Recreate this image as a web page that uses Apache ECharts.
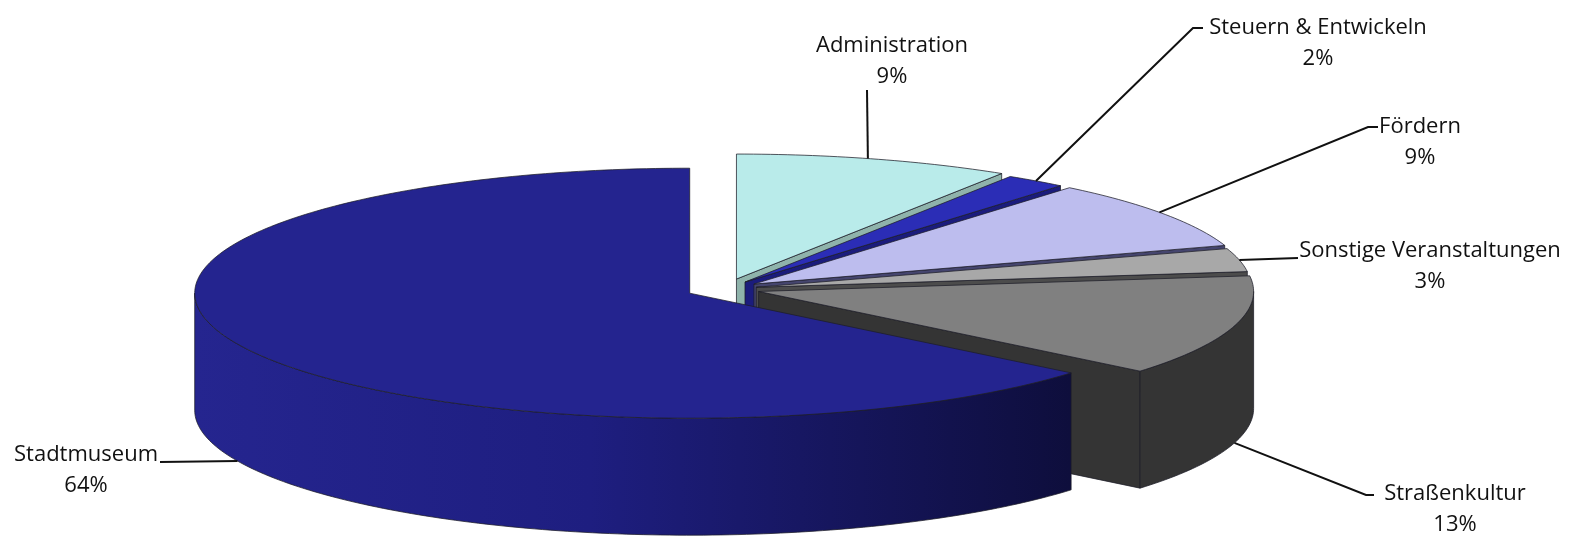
<!DOCTYPE html>
<html>
<head>
<meta charset="utf-8">
<script src="https://cdn.jsdelivr.net/npm/echarts@6/dist/echarts.min.js"></script>
<style>
  html, body { margin: 0; padding: 0; background: #ffffff; }
  #chart { width: 1584px; height: 538px; }
</style>
</head>
<body>
<div id="chart"></div>
<script>
// Budget shares by area (percent)
const categories = ['Administration', 'Steuern & Entwickeln', 'Fördern', 'Sonstige Veranstaltungen', 'Straßenkultur', 'Stadtmuseum'];
const shares = [9, 2, 9, 3, 13, 64];

// Slice styling
const topColors  = ['#b9ebea', '#2b2db6', '#bdbdee', '#a8a8a8', '#808080', '#24248f'];
const sideColors = ['#8fb3ab', '#1b1c7c', '#45456e', '#4c4c4c', '#343434', '#1a1a6a'];
const explodeDist = [41, 34, 35, 32, 35, 39];

// Projected ellipse of the pie (pixels)
const pie = { cx: 725, cy: 289, rx: 495, ry: 125, depth: 117 };

// Leader lines and label blocks: anchor angle on the rim, bend points, text centre
const labelLayout = [
  { anchor: 15.4, onWall: false, bends: [[867, 90]], text: [892, 61] },
  { anchor: 36,   onWall: false, bends: [[1193, 28], [1203, 28]], text: [1318, 43] },
  { anchor: 55,   onWall: false, bends: [[1368, 127], [1378, 127]], text: [1420, 142] },
  { anchor: 77.4, onWall: false, bends: [[1298, 258]], text: [1430, 266] },
  { anchor: 106,  onWall: true,  bends: [[1366, 495], [1374, 495]], text: [1455, 509] },
  { anchor: 246,  onWall: true,  bends: [[160, 462]], text: [86, 470] }
];

const total = shares.reduce((a, b) => a + b, 0);
const startAngles = [];
shares.reduce((acc, v, i) => { startAngles[i] = acc; return acc + v; }, 0);

const rad = d => d * Math.PI / 180;

function sliceGeometry(i) {
  const s = startAngles[i] / total * 360;
  const e = (startAngles[i] + shares[i]) / total * 360;
  const m = (s + e) / 2;
  const k = pie.ry / pie.rx;
  const cx = pie.cx + explodeDist[i] * Math.sin(rad(m));
  const cy = pie.cy - explodeDist[i] * Math.cos(rad(m)) * k;
  return { s, e, m, cx, cy };
}

function rimPoint(g, a, down) {
  return [g.cx + pie.rx * Math.sin(rad(a)), g.cy - pie.ry * Math.cos(rad(a)) + (down ? pie.depth : 0)];
}

function arcPoints(g, a1, a2, down) {
  const pts = [];
  const n = Math.max(2, Math.ceil(Math.abs(a2 - a1)));
  for (let j = 0; j <= n; j++) pts.push(rimPoint(g, a1 + (a2 - a1) * j / n, down));
  return pts;
}

function renderSlice(params, api) {
  const i = params.dataIndex;
  const g = sliceGeometry(i);
  const children = [];
  const apex = [g.cx, g.cy];
  const apexDown = [g.cx, g.cy + pie.depth];
  const edge = { stroke: 'rgba(30,30,40,0.75)', lineWidth: 1, lineJoin: 'round' };

  // radial cut faces that turn towards the viewer
  [[g.s, g.s - 90], [g.e, g.e + 90]].forEach(([a, normal]) => {
    if (Math.cos(rad(normal)) < -1e-6) {
      const r = rimPoint(g, a, false), rd = rimPoint(g, a, true);
      children.push({
        type: 'polygon',
        shape: { points: [apex, r, rd, apexDown] },
        style: Object.assign({ fill: sideColors[i] }, edge)
      });
    }
  });

  // outer wall on the front half of the ellipse
  const w1 = Math.max(g.s, 90), w2 = Math.min(g.e, 270);
  if (w2 > w1) {
    const pts = arcPoints(g, w1, w2, false).concat(arcPoints(g, w2, w1, true));
    const fill = i === shares.length - 1
      ? { type: 'linear', x: 0, y: 0, x2: 1, y2: 0,
          colorStops: [{ offset: 0, color: '#25258f' }, { offset: 0.45, color: '#1e1e80' }, { offset: 1, color: '#0e0e3c' }] }
      : sideColors[i];
    children.push({
      type: 'polygon',
      shape: { points: pts },
      style: Object.assign({ fill: fill }, edge)
    });
  }

  // top face
  children.push({
    type: 'polygon',
    shape: { points: [apex].concat(arcPoints(g, g.s, g.e, false)) },
    style: Object.assign({ fill: topColors[i] }, edge)
  });

  // leader line and label
  const L = labelLayout[i];
  const anchorPt = rimPoint(g, L.anchor, L.onWall);
  children.push({
    type: 'polyline',
    z2: 50,
    shape: { points: [anchorPt].concat(L.bends) },
    style: { stroke: '#111111', lineWidth: 2, fill: null }
  });
  children.push({
    type: 'text',
    z2: 60,
    style: {
      text: categories[i] + '\n' + api.value(0) + '%',
      x: L.text[0], y: L.text[1],
      align: 'center', verticalAlign: 'middle',
      fontFamily: 'Open Sans', fontSize: 22, lineHeight: 31,
      fill: '#111111'
    }
  });

  return { type: 'group', children };
}

const chart = echarts.init(document.getElementById('chart'), null, { renderer: 'canvas' });
chart.setOption({
  animation: false,
  backgroundColor: '#ffffff',
  series: [{
    type: 'custom',
    coordinateSystem: 'none',
    renderItem: renderSlice,
    data: shares.map((v, i) => ({ name: categories[i], value: v }))
  }]
});
</script>
</body>
</html>
